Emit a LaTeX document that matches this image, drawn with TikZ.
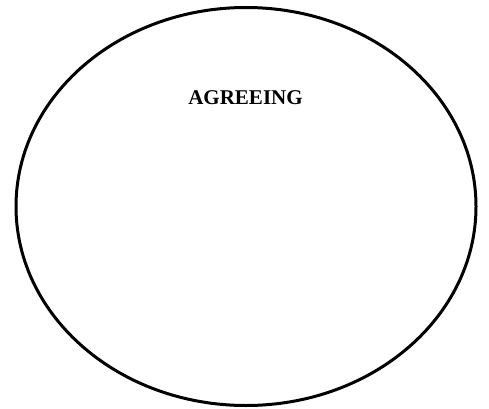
\documentclass[tikz,border=0pt]{standalone}
\usepackage{fontspec}
\setmainfont{Liberation Serif}

\begin{document}
\begin{tikzpicture}[x=1pt, y=1pt]
    % ==========================================
    % Frame: keeps the page at the picture's size
    % ==========================================
    \useasboundingbox (0,0) rectangle (489,408);

    % Outer oval
    \draw[line width=3pt, black] (246,201.5) ellipse [x radius=230, y radius=199];

    % Heading near the top of the oval
    \node[font=\fontsize{21}{24}\selectfont\bfseries, anchor=base] (agreeing) at (245.5,304) {AGREEING};
\end{tikzpicture}
\end{document}
